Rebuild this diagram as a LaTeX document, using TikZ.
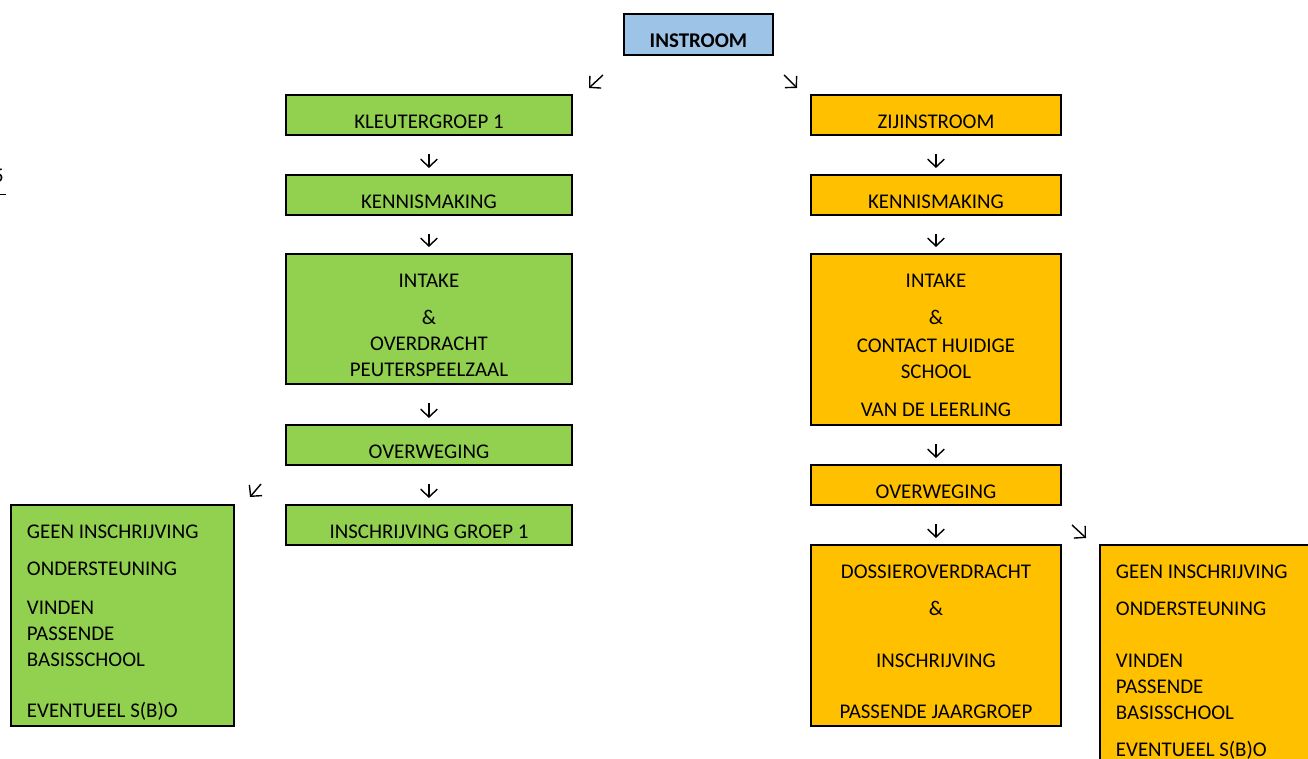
\documentclass[tikz,border=0pt]{standalone}
\usepackage{fontspec}
\setmainfont{Carlito}
\usepackage{tikz}
\usetikzlibrary{arrows.meta}
\newlength\pxu
\setlength\pxu{0.02cm}
\definecolor{kgreen}{HTML}{92D050}
\definecolor{zorange}{HTML}{FFC000}
\definecolor{iblue}{HTML}{9DC3E6}
\tikzstyle{arrow} = [line width=0.8pt,-{Straight Barb[length=4.5pt,width=9.5pt]}]
\tikzstyle{downarrow} = [arrow, shorten <=18\pxu, shorten >=6\pxu]
\tikzset{
	flowbox/.style = {draw=black, line width=1.1pt, inner sep=0pt, anchor=north west},
	greenbox/.style = {flowbox, fill=kgreen},
	orangebox/.style = {flowbox, fill=zorange},
	bluebox/.style = {flowbox, fill=iblue}
}
% box text: height, width, lines
\newcommand\boxtextc[3]{\parbox[t][#1\pxu][t]{#2\pxu}{\centering\vspace*{15\pxu}\strut #3}}
\newcommand\boxtextl[3]{\parbox[t][#1\pxu][t]{#2\pxu}{\raggedright\leftskip=16\pxu\vspace*{15\pxu}\strut #3}}

\begin{document}
\begin{tikzpicture}[x=0.02cm, y=-0.02cm, every node/.style={font=\fontsize{11.9}{14.7}\selectfont}]
\useasboundingbox (0,0) rectangle (1308,759);
%----------------------------------------------------------------------------
% Placement of flowchart nodes
\node (instroom) [bluebox] at (623,13) {\boxtextc{41}{149}{\textbf{INSTROOM}}};

\node (kleuter) [greenbox] at (285,94) {\boxtextc{40}{286}{KLEUTERGROEP 1}};
\node (kennis1) [greenbox] at (285,174) {\boxtextc{40}{286}{KENNISMAKING}};
\node (intake1) [greenbox] at (285,253) {\boxtextc{130}{286}{INTAKE\\[12\pxu]
	\&\\ OVERDRACHT\\ PEUTERSPEELZAAL}};
\node (overweging1) [greenbox] at (285,424) {\boxtextc{40}{286}{OVERWEGING}};
\node (inschrijving1) [greenbox] at (285,504) {\boxtextc{40}{286}{INSCHRIJVING GROEP 1}};
\node (geen1) [greenbox] at (10,504) {\boxtextl{221}{223}{GEEN INSCHRIJVING\\[12\pxu]
	ONDERSTEUNING\\[13\pxu] VINDEN\\ PASSENDE\\ BASISSCHOOL\\[25\pxu] EVENTUEEL S(B)O}};

\node (zijinstroom) [orangebox] at (810,94) {\boxtextc{40}{250}{ZIJINSTROOM}};
\node (kennis2) [orangebox] at (810,174) {\boxtextc{40}{250}{KENNISMAKING}};
\node (intake2) [orangebox] at (810,253) {\boxtextc{171}{250}{INTAKE\\[12\pxu]
	\&\\[2\pxu] CONTACT HUIDIGE\\ SCHOOL\\[12\pxu] VAN DE LEERLING}};
\node (overweging2) [orangebox] at (810,464) {\boxtextc{40}{250}{OVERWEGING}};
\node (dossier) [orangebox] at (810,544) {\boxtextc{181}{250}{DOSSIEROVERDRACHT\\[12\pxu]
	\&\\[26\pxu] INSCHRIJVING\\[25\pxu] PASSENDE JAARGROEP}};
\node (geen2) [orangebox] at (1099,544) {\boxtextl{240}{260}{GEEN INSCHRIJVING\\[12\pxu]
	ONDERSTEUNING\\[26\pxu] VINDEN\\ PASSENDE\\ BASISSCHOOL\\[11\pxu] EVENTUEEL S(B)O}};

\node (pagefrag) [anchor=base east, inner sep=0pt] at (4,183) {5};

%----------------------------------------------------------------------------
% Lines
\draw [downarrow] (kleuter) -- (kennis1);
\draw [downarrow] (kennis1) -- (intake1);
\draw [downarrow] (intake1) -- (overweging1);
\draw [downarrow] (overweging1) -- (inschrijving1);

\draw [downarrow] (zijinstroom) -- (kennis2);
\draw [downarrow] (kennis2) -- (intake2);
\draw [downarrow] (intake2) -- (overweging2);
\draw [downarrow] (overweging2) -- (dossier);

\coordinate (instroomL) at (603,75);
\coordinate (kleuterT) at (589,88);
\coordinate (instroomR) at (784,75);
\coordinate (zijT) at (797,88);
\coordinate (overweging1L) at (261,484);
\coordinate (geen1T) at (250,497);
\coordinate (overweging2R) at (1072,525);
\coordinate (geen2T) at (1086,538);
\draw [arrow] (instroomL) -- (kleuterT);
\draw [arrow] (instroomR) -- (zijT);
\draw [arrow] (overweging1L) -- (geen1T);
\draw [arrow] (overweging2R) -- (geen2T);

\draw [line width=0.5pt] ([yshift=-11\pxu]pagefrag.base west) -- ([yshift=-11\pxu,xshift=2\pxu]pagefrag.base east);

\end{tikzpicture}
\end{document}
